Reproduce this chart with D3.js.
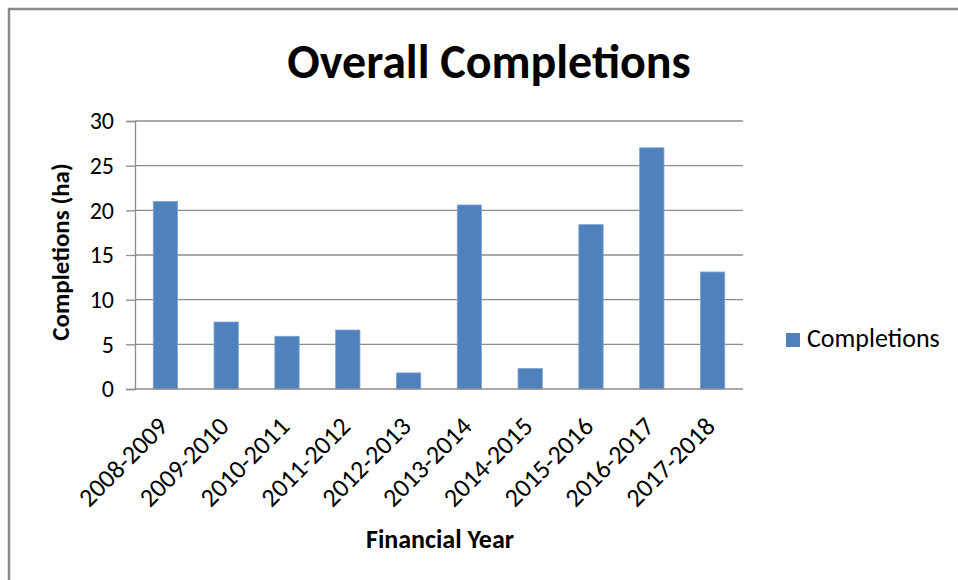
<!DOCTYPE html>
<html>
<head>
<meta charset="utf-8">
<script src="https://cdn.jsdelivr.net/npm/d3@7"></script>
<style>
  html, body { margin: 0; padding: 0; background: #fff; }
  svg { display: block; }
  text { font-family: Carlito, Calibri, Lato, "Open Sans", sans-serif; fill: #000; }
</style>
</head>
<body>
<svg id="chart" width="958" height="580"></svg>
<script>
const categories = ["2008-2009","2009-2010","2010-2011","2011-2012","2012-2013","2013-2014","2014-2015","2015-2016","2016-2017","2017-2018"];
const completions = [21.0, 7.5, 5.9, 6.6, 1.8, 20.6, 2.3, 18.4, 27.0, 13.1];
const yTicks = [0, 5, 10, 15, 20, 25, 30];
const title = "Overall Completions";
const yTitle = "Completions (ha)";
const xTitle = "Financial Year";
const seriesName = "Completions";

const svg = d3.select("#chart");
const plot = { left: 135, right: 743, top: 121, bottom: 389 };

// outer frame
svg.append("rect").attr("x", 9).attr("y", 9).attr("width", 1200).attr("height", 1200)
  .attr("fill", "#fff").attr("stroke", "#8a8a8a").attr("stroke-width", 2.5);

const x = d3.scaleBand().domain(categories).range([plot.left, plot.right]).paddingInner(0.6).paddingOuter(0.3);
const y = d3.scaleLinear().domain([0, 30]).range([plot.bottom, plot.top]);

// gridlines
svg.append("g").selectAll("line").data(yTicks.filter(d => d > 0)).join("line")
  .attr("x1", plot.left).attr("x2", plot.right)
  .attr("y1", d => y(d)).attr("y2", d => y(d))
  .attr("stroke", "#8c8c8c").attr("stroke-width", 1.3);

// bars
svg.append("g").selectAll("rect").data(categories).join("rect")
  .attr("x", d => x(d))
  .attr("width", x.bandwidth())
  .attr("y", (d, i) => y(completions[i]))
  .attr("height", (d, i) => y(0) - y(completions[i]))
  .attr("fill", "#4f81bd").attr("stroke", "#7fa3d3").attr("stroke-width", 0.8);

// y axis
const yAxis = d3.axisLeft(y).tickValues(yTicks).tickSize(9).tickPadding(12);
const gy = svg.append("g").attr("transform", `translate(${plot.left},0)`).call(yAxis);
gy.select(".domain").attr("stroke", "#8c8c8c").attr("stroke-width", 1.3);
gy.selectAll(".tick line").attr("stroke", "#8c8c8c").attr("stroke-width", 1.3);
gy.selectAll(".tick text").attr("font-family", "Carlito, Calibri, Lato, sans-serif")
  .attr("font-size", 24).attr("fill", "#222");

// x axis baseline
const xAxis = d3.axisBottom(x).tickSize(0).tickFormat("");
const gx = svg.append("g").attr("transform", `translate(0,${plot.bottom})`).call(xAxis);
gx.select(".domain").attr("stroke", "#8c8c8c").attr("stroke-width", 1.3)
  .attr("d", `M${plot.left},0H${plot.right}`);

// x labels rotated
svg.append("g").selectAll("text").data(categories).join("text")
  .attr("transform", d => `translate(${x(d) + x.bandwidth() / 2 + 4},428) rotate(-45)`)
  .attr("text-anchor", "end")
  .attr("font-size", 26).attr("fill", "#222")
  .text(d => d);

// title
svg.append("text").attr("x", 489).attr("y", 78).attr("text-anchor", "middle")
  .attr("font-size", 48).attr("font-weight", "bold").text(title);

// y title
svg.append("text").attr("transform", `translate(69,252) rotate(-90)`).attr("text-anchor", "middle")
  .attr("font-size", 25).attr("font-weight", "bold").text(yTitle);

// x title
svg.append("text").attr("x", 440).attr("y", 548).attr("text-anchor", "middle")
  .attr("font-size", 26).attr("font-weight", "bold").text(xTitle);

// legend
svg.append("rect").attr("x", 786).attr("y", 333).attr("width", 14).attr("height", 14).attr("fill", "#4f81bd");
svg.append("text").attr("x", 807).attr("y", 347).attr("font-size", 26).attr("fill", "#222").text(seriesName);
</script>
</body>
</html>
